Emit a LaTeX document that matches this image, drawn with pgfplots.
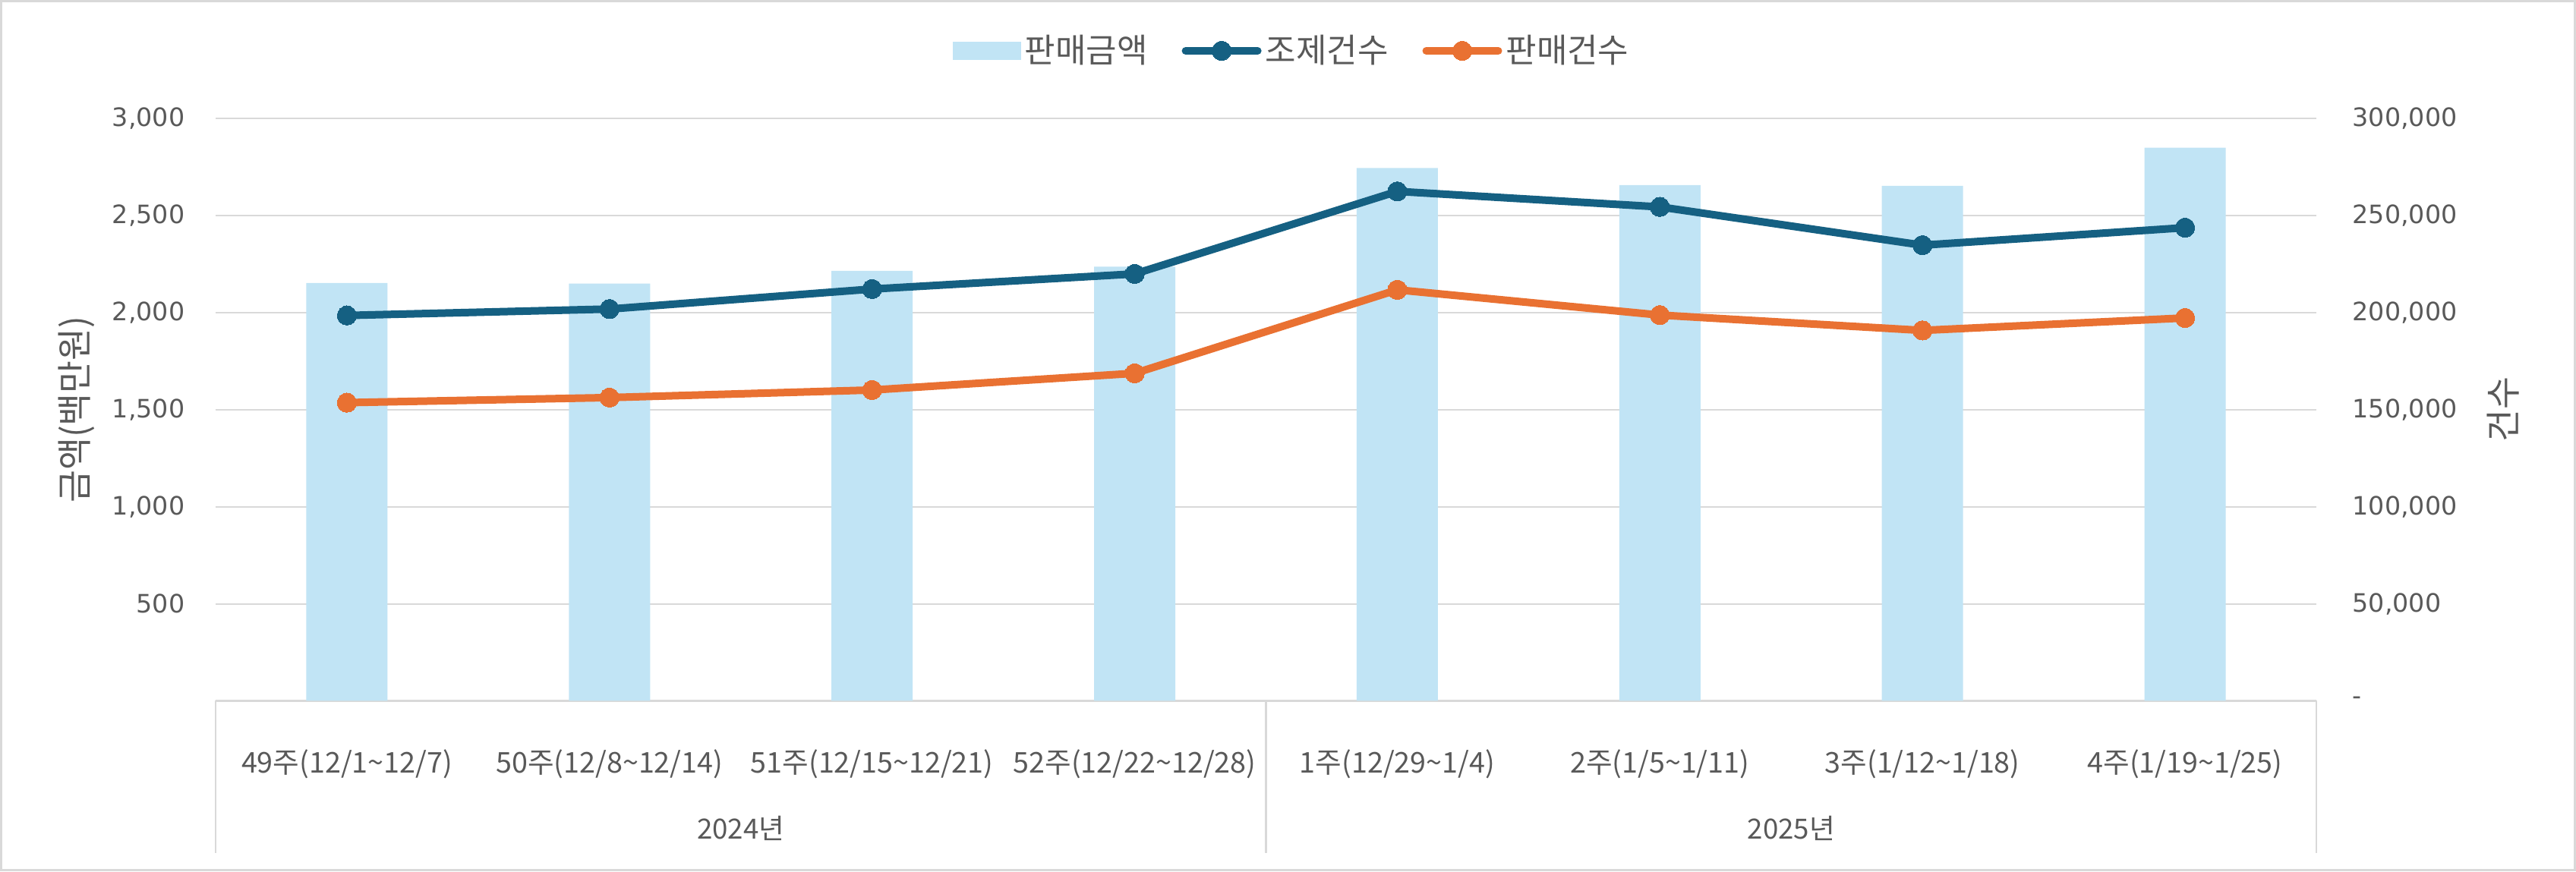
\documentclass[border=0pt]{standalone}
\usepackage{fontspec}
\setmainfont{Noto Sans CJK KR}
\newfontfamily\tickfont{DejaVu Sans}
\usepackage{pgfplots}
\pgfplotsset{compat=1.18}
\definecolor{barblue}{HTML}{C1E4F5}
\definecolor{lineblue}{HTML}{156082}
\definecolor{lineorange}{HTML}{E97132}
\definecolor{txtgray}{HTML}{595959}
\definecolor{gridgray}{HTML}{D9D9D9}
\begin{document}
\begin{tikzpicture}
\useasboundingbox (-85.2pt,-67.65pt) rectangle (932.7pt,277.05pt);
\draw[gridgray,line width=0.9pt] (-84.6pt,-67.05pt) rectangle (932.1pt,276.45pt);
\begin{axis}[
  at={(0pt,0pt)}, anchor=south west, scale only axis,
  width=830.1pt, height=230.25pt,
  xmin=-0.5, xmax=7.5, ymin=0, ymax=3000,
  axis x line*=bottom, axis y line*=left,
  x axis line style={gridgray, line width=0.75pt, -},
  y axis line style={draw=none},
  xtick={0,1,2,3,4,5,6,7},
  xticklabels={49주(12/1\textasciitilde12/7),50주(12/8\textasciitilde12/14),51주(12/15\textasciitilde12/21),52주(12/22\textasciitilde12/28),1주(12/29\textasciitilde1/4),2주(1/5\textasciitilde1/11),3주(1/12\textasciitilde1/18),4주(1/19\textasciitilde1/25)},
  xtick style={draw=none},
  ytick={500,1000,1500,2000,2500,3000},
  yticklabels={500,{1,000},{1,500},{2,000},{2,500},{3,000}},
  ytick style={draw=none},
  ymajorgrids, grid style={gridgray, line width=0.6pt},
  yticklabel style={font=\tickfont\fontsize{10}{12}\selectfont, text=txtgray, anchor=east, inner sep=0pt, xshift=-12pt},
  xticklabel style={font=\fontsize{11.3}{13}\selectfont, text=txtgray, anchor=center, yshift=-20.7pt},
  ylabel={금액(백만원)},
  ylabel style={at={(axis description cs:-0.0663,0.5)}, anchor=center, font=\fontsize{14}{16}\selectfont, text=txtgray},
  clip=false,
  ybar, bar width=32.1pt,
]
\addplot[fill=barblue, draw=none] coordinates {(0,2152) (1,2149) (2,2215) (3,2236) (4,2744) (5,2657) (6,2653) (7,2849)};
\draw[gridgray, line width=0.75pt] (axis cs:-0.5,0) -- ++(0pt,-60.3pt);
\draw[gridgray, line width=0.75pt] (axis cs:3.5,0) -- ++(0pt,-60.3pt);
\draw[gridgray, line width=0.75pt] (axis cs:7.5,0) -- ++(0pt,-60.3pt);
\node[font=\fontsize{11}{13}\selectfont, text=txtgray, anchor=center, yshift=-50.4pt] at (axis cs:1.5,0) {2024년};
\node[font=\fontsize{11}{13}\selectfont, text=txtgray, anchor=center, yshift=-50.4pt] at (axis cs:5.5,0) {2025년};
\end{axis}
\begin{axis}[
  at={(0pt,0pt)}, anchor=south west, scale only axis,
  width=830.1pt, height=230.25pt,
  xmin=-0.5, xmax=7.5, ymin=0, ymax=300000,
  axis x line=none, axis y line*=right,
  y axis line style={draw=none},
  scaled y ticks=false,
  ytick={0,50000,100000,150000,200000,250000,300000},
  yticklabels={-,{50,000},{100,000},{150,000},{200,000},{250,000},{300,000}},
  ytick style={draw=none},
  yticklabel style={font=\tickfont\fontsize{10}{12}\selectfont, text=txtgray, anchor=west, inner sep=0pt, xshift=14.1pt},
  ylabel={건수},
  ylabel style={at={(axis description cs:1.0888,0.5)}, anchor=center, font=\fontsize{14}{16}\selectfont, text=txtgray},
  clip=false,
  legend style={at={(axis description cs:0.5128,1.116)}, anchor=center, draw=none, fill=none,
    font=\fontsize{13.2}{15}\selectfont, text=txtgray, inner sep=0pt,
    nodes={inner sep=1.5pt},
    /tikz/every even column/.append style={column sep=12pt}},
  legend columns=3, legend cell align=left,
  lineleg/.style={legend image code/.code={\draw[mark repeat=2, mark phase=2, line cap=round, ##1] plot coordinates {(0pt,0pt) (14.25pt,0pt) (28.5pt,0pt)};}},
]
\addlegendimage{legend image code/.code={\fill[barblue] (0pt,-3.45pt) rectangle (26.4pt,3.45pt);}}
\addlegendentry{판매금액}
\addplot[lineblue, line width=3pt, line join=round, mark=*, mark size=3.8pt, mark options={solid, fill=lineblue, draw=lineblue, line width=0pt}, lineleg] coordinates {(0,198500) (1,201800) (2,212100) (3,219900) (4,262400) (5,254400) (6,234700) (7,243700)};
\addlegendentry{조제건수}
\addplot[lineorange, line width=3pt, line join=round, mark=*, mark size=3.8pt, mark options={solid, fill=lineorange, draw=lineorange, line width=0pt}, lineleg] coordinates {(0,153600) (1,156200) (2,160100) (3,168700) (4,211700) (5,198700) (6,190800) (7,197200)};
\addlegendentry{판매건수}
\end{axis}
\end{tikzpicture}
\end{document}
